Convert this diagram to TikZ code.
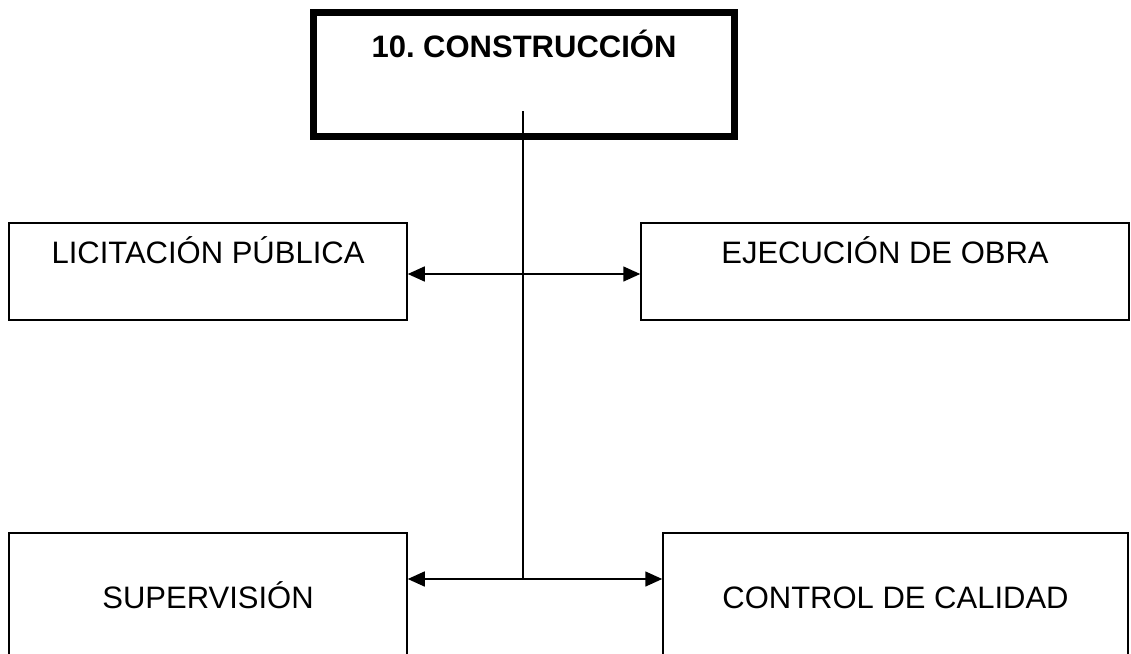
\documentclass[tikz,border=0pt]{standalone}
\usepackage{fontspec}
\setmainfont{Liberation Sans}
\usetikzlibrary{arrows.meta}
\frenchspacing
\tikzset{
    box/.style={draw, line width=1.5pt, inner sep=0pt, align=center, anchor=base,
        font=\fontsize{31}{37}\selectfont},
    link/.style={line width=1.5pt, -{Triangle[length=17pt,width=15pt]}}
}
\begin{document}
\begin{tikzpicture}[x=1pt,y=-1pt]
    \useasboundingbox (0,0) rectangle (1131,653);
    \node[box, line width=7pt, minimum width=421pt, text height=44.5pt, text depth=79.5pt,
        font=\fontsize{31}{37}\selectfont\bfseries] (constr) at (524,57) {10. CONSTRUCCIÓN};
    \node[box, minimum width=398pt, text height=40pt, text depth=57pt] (licit) at (208,263) {LICITACIÓN PÚBLICA};
    \node[box, minimum width=488pt, text height=40pt, text depth=57pt] (ejec) at (885,263) {EJECUCIÓN DE OBRA};
    \node[box, minimum width=398pt, text height=75pt, text depth=60pt] (superv) at (208,608) {SUPERVISIÓN};
    \node[box, minimum width=465pt, text height=75pt, text depth=60pt] (calid) at (895.5,608) {CONTROL DE CALIDAD};
    \coordinate (stem) at (523,111);
    \coordinate (upper) at (523,274);
    \coordinate (lower) at (523,579);
    \draw [line width=1.5pt] (stem) -- (lower);
    \draw [link] (upper) -- (upper -| licit.east);
    \draw [link] (upper) -- (upper -| ejec.west);
    \draw [link] (lower) -- (lower -| superv.east);
    \draw [link] (lower) -- (lower -| calid.west);
\end{tikzpicture}
\end{document}
